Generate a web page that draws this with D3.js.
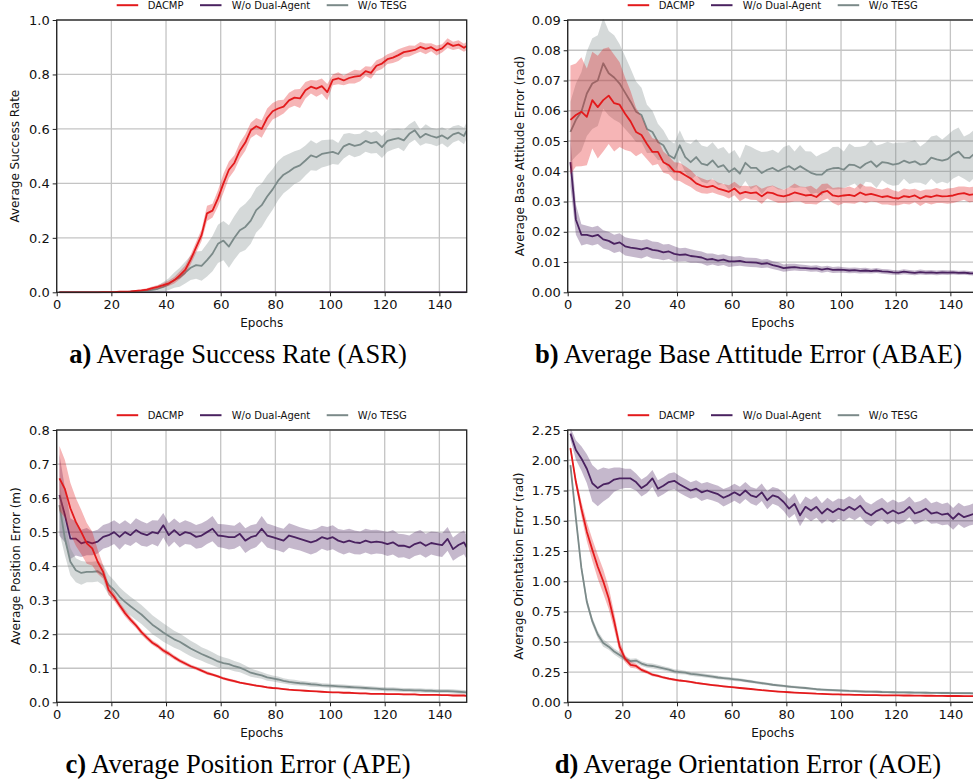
<!DOCTYPE html>
<html><head><meta charset="utf-8">
<script src="https://cdn.jsdelivr.net/npm/d3@7"></script>
<style>body{margin:0;background:#fff;overflow:hidden}</style>
</head><body><svg id="c" width="973" height="782"></svg>
<script>
// ---------- DATA ----------
const epochs = d3.range(1, 150, 2).concat([150]);
const seriesNames = ["DACMP", "W/o Dual-Agent", "W/o TESG"];
const xTicks = [0, 20, 40, 60, 80, 100, 120, 140];

// a) ASR
const asrDacmp = [0,0,0,0,0,0,0,0,0.001,0.001,
0.001,0.002,0.002,0.003,0.005,0.007,0.01,0.015,0.02,0.026,
0.033,0.044,0.062,0.082,0.12,0.165,0.21,0.29,0.3,0.345,
0.4,0.45,0.475,0.52,0.55,0.595,0.61,0.6,0.64,0.665,
0.675,0.682,0.705,0.715,0.712,0.742,0.755,0.748,0.757,0.735,
0.78,0.786,0.778,0.787,0.792,0.795,0.812,0.806,0.832,0.84,
0.856,0.862,0.871,0.882,0.886,0.89,0.901,0.894,0.9,0.888,
0.896,0.915,0.905,0.91,0.898,0.905];
const asrDacmpStd = [0.001,0.001,0.001,0.001,0.001,0.001,0.001,0.001,0.001,0.001,
0.001,0.001,0.002,0.002,0.003,0.004,0.005,0.006,0.007,0.008,
0.01,0.012,0.014,0.016,0.018,0.02,0.022,0.028,0.025,0.03,
0.035,0.03,0.028,0.03,0.03,0.028,0.03,0.032,0.035,0.03,
0.03,0.025,0.028,0.03,0.035,0.03,0.025,0.03,0.028,0.03,
0.02,0.022,0.018,0.02,0.025,0.02,0.018,0.022,0.02,0.02,
0.018,0.02,0.022,0.018,0.02,0.015,0.018,0.02,0.015,0.018,
0.015,0.018,0.015,0.016,0.015,0.015];
const asrDual = [0,0,0,0,0,0,0,0,0,0, 0,0,0,0,0,0,0,0,0,0, 0,0,0,0,0,0,0,0,0,0,
0,0,0,0,0,0,0,0,0,0, 0,0,0,0,0,0,0,0,0,0, 0,0,0,0,0,0,0,0,0,0, 0,0,0,0,0,0,0,0,0,0, 0,0,0,0,0,0];
const asrDualStd = [0,0,0,0,0,0,0,0,0,0, 0,0,0,0,0,0,0,0,0,0, 0,0,0,0,0,0,0,0,0,0,
0,0,0,0,0,0,0,0,0,0, 0,0,0,0,0,0,0,0,0,0, 0,0,0,0,0,0,0,0,0,0, 0,0,0,0,0,0,0,0,0,0, 0,0,0,0,0,0];
const asrTesg = [0,0,0,0,0,0,0,0,0,0,
0,0.001,0.001,0.002,0.003,0.004,0.006,0.009,0.013,0.02,
0.03,0.045,0.055,0.072,0.09,0.1,0.097,0.118,0.142,0.178,
0.19,0.168,0.2,0.228,0.24,0.263,0.302,0.32,0.352,0.378,
0.41,0.432,0.444,0.458,0.466,0.484,0.503,0.496,0.508,0.512,
0.516,0.508,0.536,0.545,0.538,0.542,0.556,0.548,0.552,0.533,
0.556,0.562,0.566,0.558,0.582,0.595,0.568,0.582,0.574,0.568,
0.576,0.564,0.58,0.586,0.574,0.595];
const asrTesgStd = [0.001,0.001,0.001,0.001,0.001,0.001,0.001,0.001,0.001,0.001,
0.001,0.001,0.002,0.002,0.003,0.004,0.006,0.008,0.012,0.018,
0.022,0.028,0.035,0.04,0.045,0.05,0.055,0.06,0.065,0.07,
0.072,0.078,0.08,0.082,0.085,0.085,0.082,0.08,0.078,0.075,
0.072,0.068,0.065,0.06,0.058,0.055,0.055,0.05,0.05,0.048,
0.045,0.04,0.045,0.04,0.042,0.04,0.04,0.038,0.04,0.04,
0.04,0.038,0.035,0.04,0.035,0.035,0.03,0.035,0.03,0.032,
0.03,0.032,0.03,0.028,0.03,0.03];

// b) ABAE
const abaeDacmp = [0.057,0.0586,0.0597,0.058,0.0635,0.0612,0.0635,0.065,0.0625,0.062,
0.059,0.0565,0.053,0.052,0.049,0.0464,0.0464,0.043,0.042,0.040,
0.0398,0.0387,0.0376,0.036,0.0352,0.0348,0.0352,0.0343,0.0338,0.0332,
0.0343,0.0326,0.0332,0.0328,0.033,0.0317,0.033,0.0328,0.032,0.0317,
0.0322,0.033,0.0325,0.032,0.0322,0.0315,0.033,0.0335,0.032,0.0317,
0.032,0.0322,0.0318,0.033,0.0322,0.0325,0.032,0.0315,0.0318,0.0312,
0.031,0.0318,0.0315,0.032,0.031,0.0318,0.0315,0.032,0.0317,0.0318,
0.032,0.0325,0.0328,0.0322,0.0325,0.032];
const abaeDacmpStd = [0.018,0.017,0.018,0.016,0.016,0.017,0.017,0.016,0.016,0.014,
0.012,0.01,0.008,0.006,0.005,0.0045,0.004,0.0035,0.003,0.003,
0.003,0.003,0.0028,0.0025,0.0025,0.0022,0.0022,0.002,0.002,0.0022,
0.0022,0.0025,0.002,0.0022,0.0025,0.0025,0.002,0.0025,0.0025,0.0022,
0.0025,0.003,0.0025,0.0028,0.003,0.0025,0.0028,0.0025,0.0025,0.003,
0.0025,0.0028,0.0025,0.003,0.0028,0.0025,0.0022,0.0025,0.0028,0.0025,
0.0022,0.0025,0.0025,0.0022,0.0025,0.0022,0.0025,0.0025,0.0022,0.0025,
0.0025,0.0025,0.0022,0.0025,0.0025,0.0025];
const abaeDual = [0.043,0.024,0.019,0.019,0.0185,0.019,0.0175,0.017,0.016,0.0165,
0.0152,0.0148,0.0145,0.0142,0.0147,0.014,0.0138,0.0132,0.0135,0.0127,
0.0124,0.0125,0.012,0.0118,0.0115,0.0108,0.011,0.0105,0.0108,0.0102,
0.0102,0.0104,0.01,0.0099,0.0098,0.0094,0.0096,0.009,0.0086,0.008,
0.0082,0.0083,0.0081,0.008,0.0078,0.0079,0.0075,0.0078,0.0074,0.0075,
0.0074,0.0072,0.0073,0.0071,0.0072,0.007,0.0072,0.0069,0.0068,0.0066,
0.0065,0.0068,0.0066,0.0064,0.0067,0.0065,0.0066,0.0064,0.0066,0.0065,
0.0066,0.0064,0.0065,0.0063,0.0062,0.0061];
const abaeDualStd = [0.008,0.005,0.0035,0.003,0.003,0.003,0.003,0.003,0.003,0.003,
0.003,0.003,0.003,0.003,0.0028,0.0028,0.0028,0.0026,0.0025,0.0025,
0.0022,0.0022,0.0022,0.002,0.002,0.002,0.0018,0.0018,0.0018,0.0018,
0.0016,0.0016,0.0015,0.0015,0.0015,0.0014,0.0014,0.0013,0.0013,0.0012,
0.0012,0.0011,0.0011,0.001,0.001,0.001,0.001,0.001,0.001,0.001,
0.0009,0.0009,0.0009,0.0009,0.0009,0.0008,0.0008,0.0008,0.0008,0.0008,
0.0008,0.0008,0.0008,0.0008,0.0008,0.0008,0.0008,0.0008,0.0008,0.0008,
0.0007,0.0007,0.0007,0.0007,0.0007,0.0007];
const abaeTesg = [0.053,0.057,0.0597,0.0657,0.069,0.07,0.0757,0.0724,0.071,0.069,
0.066,0.063,0.0597,0.0586,0.054,0.053,0.0497,0.0486,0.0453,0.0442,
0.0486,0.0447,0.043,0.0447,0.0425,0.042,0.0436,0.0414,0.042,0.0398,
0.041,0.0392,0.0428,0.0411,0.0411,0.0394,0.0405,0.0411,0.04,0.041,
0.0417,0.0405,0.0417,0.0406,0.0395,0.0389,0.0389,0.0405,0.041,0.0411,
0.0405,0.0422,0.042,0.0411,0.0425,0.0433,0.0415,0.043,0.0428,0.0422,
0.0425,0.0435,0.0428,0.0433,0.0422,0.0425,0.0445,0.0439,0.0435,0.044,
0.0456,0.0465,0.0445,0.0444,0.046,0.0445];
const abaeTesgStd = [0.01,0.012,0.013,0.014,0.015,0.015,0.015,0.014,0.014,0.013,
0.012,0.011,0.01,0.009,0.008,0.007,0.006,0.005,0.005,0.005,
0.005,0.005,0.006,0.006,0.006,0.006,0.006,0.006,0.006,0.006,
0.006,0.005,0.006,0.007,0.006,0.007,0.006,0.006,0.006,0.007,
0.007,0.006,0.007,0.006,0.007,0.006,0.007,0.006,0.007,0.007,
0.006,0.007,0.006,0.007,0.006,0.007,0.007,0.006,0.007,0.007,
0.007,0.006,0.007,0.007,0.006,0.007,0.007,0.008,0.007,0.008,
0.008,0.008,0.007,0.008,0.008,0.007];

// c) APE
const apeDacmp = [0.658,0.627,0.57,0.53,0.5,0.467,0.452,0.413,0.383,0.33,
0.31,0.285,0.262,0.243,0.226,0.206,0.19,0.175,0.165,0.152,
0.143,0.132,0.122,0.114,0.106,0.1,0.093,0.086,0.081,0.076,
0.07,0.066,0.062,0.058,0.055,0.052,0.049,0.047,0.044,0.042,
0.041,0.039,0.037,0.036,0.035,0.034,0.033,0.032,0.031,0.03,
0.029,0.029,0.028,0.028,0.027,0.026,0.026,0.025,0.025,0.025,
0.024,0.024,0.024,0.023,0.023,0.023,0.022,0.022,0.022,0.022,
0.021,0.021,0.02,0.02,0.02,0.019];
const apeDacmpStd = [0.095,0.085,0.075,0.07,0.065,0.06,0.05,0.035,0.02,0.015,
0.012,0.01,0.01,0.009,0.008,0.008,0.008,0.007,0.007,0.007,
0.007,0.006,0.006,0.006,0.005,0.005,0.005,0.005,0.004,0.004,
0.004,0.004,0.004,0.003,0.003,0.003,0.003,0.003,0.003,0.003,
0.002,0.002,0.002,0.002,0.002,0.002,0.002,0.002,0.002,0.002,
0.002,0.002,0.002,0.002,0.002,0.002,0.002,0.002,0.002,0.002,
0.002,0.002,0.002,0.002,0.002,0.002,0.002,0.002,0.002,0.002,
0.002,0.002,0.002,0.002,0.002,0.002];
const apeDual = [0.609,0.55,0.481,0.481,0.467,0.472,0.467,0.472,0.486,0.491,
0.5,0.486,0.5,0.491,0.506,0.496,0.491,0.5,0.496,0.52,
0.491,0.506,0.491,0.5,0.496,0.486,0.49,0.5,0.51,0.49,
0.488,0.485,0.485,0.495,0.475,0.485,0.49,0.51,0.49,0.485,
0.48,0.475,0.49,0.485,0.48,0.475,0.47,0.475,0.485,0.48,
0.485,0.475,0.47,0.475,0.47,0.468,0.475,0.47,0.472,0.47,
0.465,0.47,0.46,0.46,0.455,0.465,0.47,0.46,0.468,0.465,
0.462,0.48,0.45,0.462,0.47,0.455];
const apeDualStd = [0.12,0.08,0.06,0.05,0.04,0.04,0.035,0.035,0.035,0.035,
0.035,0.038,0.035,0.032,0.035,0.036,0.034,0.035,0.038,0.036,
0.035,0.034,0.036,0.035,0.033,0.035,0.036,0.035,0.037,0.034,
0.035,0.036,0.034,0.035,0.036,0.035,0.034,0.037,0.035,0.035,
0.034,0.035,0.036,0.035,0.034,0.035,0.036,0.035,0.034,0.035,
0.035,0.034,0.036,0.035,0.035,0.034,0.035,0.036,0.035,0.034,
0.035,0.036,0.035,0.034,0.035,0.035,0.036,0.035,0.034,0.035,
0.035,0.035,0.034,0.035,0.035,0.035];
const apeTesg = [0.579,0.481,0.413,0.388,0.38,0.383,0.383,0.385,0.374,0.345,
0.33,0.31,0.295,0.282,0.27,0.258,0.243,0.228,0.217,0.205,
0.195,0.185,0.178,0.168,0.158,0.15,0.142,0.135,0.128,0.12,
0.115,0.112,0.106,0.102,0.095,0.087,0.083,0.079,0.073,0.07,
0.067,0.063,0.06,0.058,0.056,0.055,0.053,0.052,0.05,0.049,
0.048,0.047,0.046,0.045,0.044,0.043,0.042,0.041,0.04,0.039,
0.038,0.038,0.037,0.036,0.036,0.035,0.035,0.034,0.034,0.033,
0.033,0.033,0.032,0.031,0.03,0.029];
const apeTesgStd = [0.08,0.05,0.04,0.035,0.035,0.03,0.03,0.03,0.03,0.03,
0.028,0.028,0.028,0.028,0.028,0.028,0.028,0.028,0.027,0.027,
0.026,0.025,0.024,0.024,0.023,0.022,0.02,0.02,0.019,0.018,
0.017,0.016,0.015,0.014,0.013,0.012,0.011,0.01,0.01,0.009,
0.009,0.008,0.008,0.008,0.007,0.007,0.007,0.007,0.006,0.006,
0.006,0.006,0.006,0.006,0.006,0.006,0.006,0.006,0.006,0.006,
0.006,0.006,0.006,0.006,0.006,0.006,0.006,0.006,0.006,0.006,
0.006,0.006,0.006,0.006,0.006,0.006];

// d) AOE
const aoeDacmp = [2.1,1.82,1.6,1.41,1.26,1.12,1.0,0.86,0.67,0.46,
0.36,0.31,0.3,0.268,0.25,0.228,0.218,0.205,0.195,0.187,
0.18,0.175,0.168,0.16,0.154,0.148,0.142,0.137,0.132,0.127,
0.123,0.118,0.114,0.11,0.105,0.1,0.097,0.093,0.089,0.086,
0.083,0.08,0.078,0.076,0.073,0.071,0.07,0.068,0.066,0.065,
0.064,0.063,0.062,0.061,0.06,0.06,0.059,0.058,0.058,0.057,
0.057,0.056,0.056,0.055,0.055,0.054,0.054,0.053,0.053,0.052,
0.052,0.052,0.051,0.051,0.05,0.05];
const aoeDacmpStd = [0.03,0.04,0.06,0.08,0.09,0.1,0.1,0.09,0.07,0.05,
0.03,0.025,0.02,0.018,0.015,0.012,0.012,0.01,0.01,0.01,
0.008,0.008,0.008,0.008,0.008,0.007,0.007,0.007,0.007,0.007,
0.006,0.006,0.006,0.006,0.006,0.006,0.006,0.006,0.006,0.006,
0.005,0.005,0.005,0.005,0.005,0.005,0.005,0.005,0.005,0.005,
0.005,0.005,0.005,0.005,0.005,0.005,0.005,0.005,0.005,0.005,
0.005,0.005,0.005,0.005,0.005,0.005,0.005,0.005,0.005,0.005,
0.005,0.005,0.005,0.005,0.005,0.005];
const aoeDual = [2.22,2.085,2.015,1.93,1.81,1.77,1.8,1.81,1.84,1.85,
1.85,1.85,1.82,1.77,1.8,1.85,1.765,1.79,1.82,1.83,
1.8,1.775,1.75,1.765,1.735,1.75,1.735,1.72,1.69,1.71,
1.735,1.71,1.75,1.71,1.695,1.735,1.67,1.71,1.695,1.655,
1.6,1.64,1.545,1.615,1.585,1.615,1.56,1.6,1.57,1.6,
1.585,1.615,1.59,1.625,1.57,1.545,1.58,1.6,1.56,1.585,
1.56,1.575,1.615,1.56,1.575,1.6,1.56,1.57,1.55,1.56,
1.515,1.56,1.53,1.545,1.56,1.555];
const aoeDualStd = [0.05,0.08,0.1,0.12,0.15,0.15,0.14,0.12,0.1,0.09,
0.08,0.08,0.07,0.07,0.07,0.07,0.07,0.07,0.07,0.07,
0.07,0.07,0.068,0.07,0.072,0.07,0.068,0.07,0.072,0.07,
0.07,0.072,0.07,0.068,0.07,0.072,0.075,0.07,0.072,0.075,
0.08,0.085,0.09,0.085,0.088,0.09,0.085,0.09,0.088,0.085,
0.09,0.088,0.085,0.09,0.088,0.09,0.085,0.09,0.088,0.09,
0.09,0.088,0.085,0.09,0.088,0.09,0.085,0.09,0.088,0.09,
0.09,0.088,0.09,0.085,0.09,0.088];
const aoeTesg = [1.96,1.52,1.11,0.83,0.67,0.56,0.49,0.46,0.42,0.39,
0.36,0.34,0.345,0.32,0.305,0.3,0.29,0.28,0.27,0.255,
0.25,0.245,0.235,0.23,0.225,0.218,0.212,0.205,0.2,0.195,
0.19,0.185,0.178,0.172,0.165,0.158,0.152,0.145,0.14,0.135,
0.13,0.126,0.122,0.118,0.113,0.108,0.105,0.102,0.1,0.098,
0.096,0.094,0.093,0.091,0.089,0.088,0.087,0.085,0.084,0.083,
0.082,0.082,0.081,0.08,0.08,0.079,0.078,0.078,0.077,0.077,
0.076,0.076,0.075,0.075,0.074,0.074];
const aoeTesgStd = [0.03,0.04,0.04,0.035,0.03,0.03,0.03,0.025,0.025,0.025,
0.02,0.02,0.02,0.02,0.02,0.02,0.02,0.018,0.018,0.018,
0.018,0.016,0.016,0.016,0.015,0.015,0.015,0.014,0.014,0.014,
0.013,0.013,0.013,0.012,0.012,0.012,0.012,0.011,0.011,0.011,
0.011,0.01,0.01,0.01,0.01,0.01,0.01,0.01,0.01,0.01,
0.01,0.01,0.01,0.01,0.01,0.01,0.01,0.01,0.01,0.01,
0.01,0.01,0.01,0.01,0.01,0.01,0.01,0.01,0.01,0.01,
0.01,0.01,0.01,0.01,0.01,0.01];

const asrTicks = [0, 0.2, 0.4, 0.6, 0.8, 1.0];
const abaeTicks = [0, 0.01, 0.02, 0.03, 0.04, 0.05, 0.06, 0.07, 0.08, 0.09];
const apeTicks = [0, 0.1, 0.2, 0.3, 0.4, 0.5, 0.6, 0.7, 0.8];
const aoeTicks = [0, 0.25, 0.5, 0.75, 1.0, 1.25, 1.5, 1.75, 2.0, 2.25];

// ---------- STYLE / LAYOUT ----------
const colors = ["#e31a1c", "#4a2260", "#7b8a89"];
const bandOpacity = [0.32, 0.32, 0.32];
const drawOrder = [1, 2, 0];
const plotW = 410, plotH = 272.3;

const panels = [
  {left: 56.7, top: 20, ymax: 1.0, ticks: asrTicks, fmt: ".1f", ylabel: "Average Success Rate", ylabX: 15,
   letter: "a)", caption: " Average Success Rate (ASR)", capX: 238,
   means: [asrDacmp, asrDual, asrTesg], stds: [asrDacmpStd, asrDualStd, asrTesgStd]},
  {left: 567.7, top: 20, ymax: 0.09, ticks: abaeTicks, fmt: ".2f", ylabel: "Average Base Attitude Error (rad)", ylabX: 520,
   letter: "b)", caption: " Average Base Attitude Error (ABAE)", capX: 748.5,
   means: [abaeDacmp, abaeDual, abaeTesg], stds: [abaeDacmpStd, abaeDualStd, abaeTesgStd]},
  {left: 56.7, top: 430, ymax: 0.8, ticks: apeTicks, fmt: ".1f", ylabel: "Average Position Error (m)", ylabX: 16,
   letter: "c)", caption: " Average Position Error (APE)", capX: 238,
   means: [apeDacmp, apeDual, apeTesg], stds: [apeDacmpStd, apeDualStd, apeTesgStd]},
  {left: 567.7, top: 430, ymax: 2.25, ticks: aoeTicks, fmt: ".2f", ylabel: "Average Orientation Error (rad)", ylabX: 519,
   letter: "d)", caption: " Average Orientation Error (AOE)", capX: 748,
   means: [aoeDacmp, aoeDual, aoeTesg], stds: [aoeDacmpStd, aoeDualStd, aoeTesgStd]}
];

const svg = d3.select("#c");
const sans = "'DejaVu Sans', sans-serif";

panels.forEach((p, pi) => {
  const x = d3.scaleLinear().domain([0, 150]).range([p.left, p.left + plotW]);
  const y = d3.scaleLinear().domain([0, p.ymax]).range([p.top + plotH, p.top]);
  const g = svg.append("g");
  const clipId = "clip" + pi;
  svg.append("clipPath").attr("id", clipId).append("rect")
    .attr("x", p.left).attr("y", p.top - 1).attr("width", plotW).attr("height", plotH + 2);

  // grid
  g.append("g").selectAll("line").data(xTicks).join("line")
    .attr("x1", d => x(d)).attr("x2", d => x(d)).attr("y1", p.top).attr("y2", p.top + plotH)
    .attr("stroke", "#c4c4c4").attr("stroke-width", 1.3);
  g.append("g").selectAll("line").data(p.ticks).join("line")
    .attr("x1", p.left).attr("x2", p.left + plotW).attr("y1", d => y(d)).attr("y2", d => y(d))
    .attr("stroke", "#c4c4c4").attr("stroke-width", 1.3);

  const data = g.append("g").attr("clip-path", `url(#${clipId})`);
  drawOrder.forEach(si => {
    const m = p.means[si], s = p.stds[si];
    const pts = epochs.map((e, i) => ({e, m: m[i], s: s[i]}));
    const area = d3.area().x(d => x(d.e)).y0(d => y(d.m - d.s)).y1(d => y(d.m + d.s));
    const line = d3.line().x(d => x(d.e)).y(d => y(d.m));
    data.append("path").attr("d", area(pts)).attr("fill", colors[si]).attr("fill-opacity", bandOpacity[si]).attr("stroke", "none");
    data.append("path").attr("d", line(pts)).attr("fill", "none").attr("stroke", colors[si])
      .attr("stroke-width", 1.8).attr("stroke-linejoin", "round");
  });

  // axes
  const xAxis = d3.axisBottom(x).tickValues(xTicks).tickFormat(d3.format("d")).tickSize(4).tickSizeOuter(0).tickPadding(3);
  const yAxis = d3.axisLeft(y).tickValues(p.ticks).tickFormat(d3.format(p.fmt)).tickSize(4).tickSizeOuter(0).tickPadding(3);
  const gx = g.append("g").attr("transform", `translate(0,${p.top + plotH})`).call(xAxis);
  const gy = g.append("g").attr("transform", `translate(${p.left},0)`).call(yAxis);
  [gx, gy].forEach(a => {
    a.select(".domain").remove();
    a.selectAll(".tick line").attr("stroke", "#222").attr("stroke-width", 1);
    a.selectAll(".tick text").attr("fill", "#111").style("font-family", sans).style("font-size", "13px");
  });
  // frame
  g.append("rect").attr("x", p.left).attr("y", p.top).attr("width", plotW).attr("height", plotH)
    .attr("fill", "none").attr("stroke", "#222").attr("stroke-width", 1.3);

  // axis labels
  g.append("text").attr("x", (x(0) + x(150)) / 2).attr("y", p.top + plotH + 35)
    .attr("text-anchor", "middle").style("font-family", sans).style("font-size", "12px").attr("fill", "#111").text("Epochs");
  g.append("text").attr("transform", `translate(${p.ylabX},${p.top + plotH / 2}) rotate(-90)`)
    .attr("text-anchor", "middle").attr("dominant-baseline", "central")
    .style("font-family", sans).style("font-size", "12px").attr("fill", "#111").text(p.ylabel);

  // legend
  const lx = [60, 143.3, 270], tx = [91, 175, 301];
  const ly = p.top - 14.8;
  seriesNames.forEach((n, si) => {
    g.append("line").attr("x1", p.left + lx[si]).attr("x2", p.left + lx[si] + 21.5)
      .attr("y1", ly).attr("y2", ly).attr("stroke", colors[si]).attr("stroke-width", 2);
    g.append("text").attr("x", p.left + tx[si]).attr("y", ly).attr("dominant-baseline", "central")
      .style("font-family", sans).style("font-size", "10px").attr("fill", "#111").text(n);
  });

  // caption
  const cap = g.append("text").attr("x", p.capX).attr("y", p.top + 343).attr("text-anchor", "middle")
    .style("font-family", "'Liberation Serif', 'Times New Roman', serif").style("font-size", "26.6px").attr("fill", "#000");
  cap.append("tspan").attr("font-weight", "bold").text(p.letter);
  cap.append("tspan").text(p.caption);
});
</script></body></html>
